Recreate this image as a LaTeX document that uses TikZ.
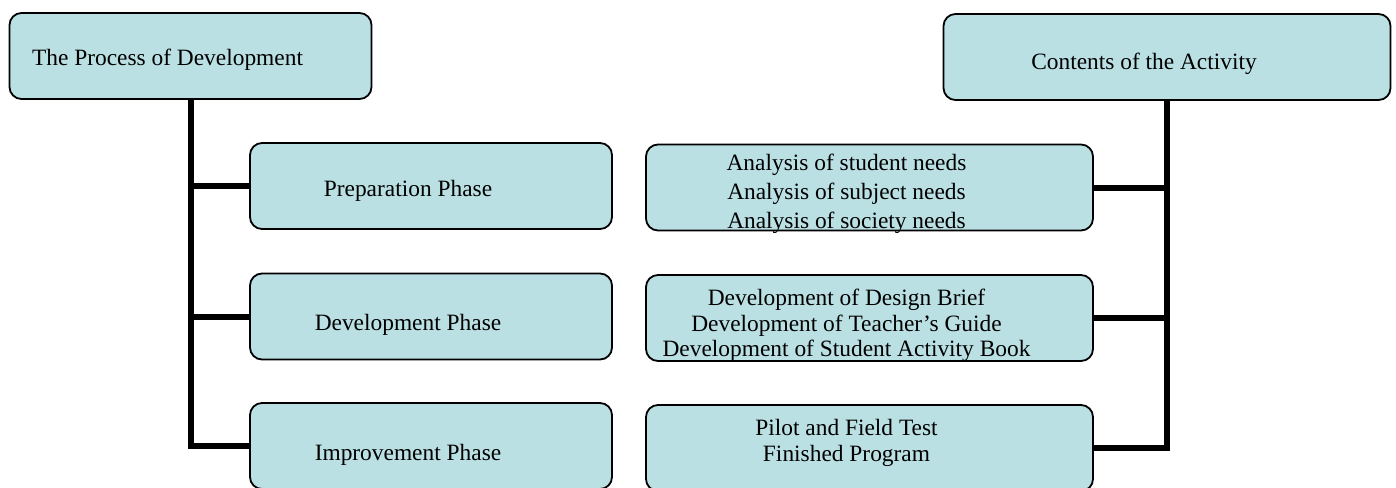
\documentclass[tikz,border=0pt]{standalone}
\usepackage{fontspec}
\setmainfont{Liberation Serif}
\definecolor{boxfill}{RGB}{186,224,228}

\begin{document}
\begin{tikzpicture}[x=0.5pt, y=-0.5pt, font=\fontsize{11.7}{13}\selectfont,
        box/.style={draw=black, line width=0.9pt, fill=boxfill, rounded corners=6pt, inner sep=0pt, minimum height=43pt},
        phase/.style={box, minimum width=181pt},
        activity/.style={box, minimum width=223.5pt},
        boxtext/.style={xshift=-11.5pt, align=center},
        trunk/.style={line width=3pt}]
        \useasboundingbox (0, 0) rectangle (1396, 487);
        \clip (0, 0) rectangle (1396, 487);

        % the two headings
        \node[phase, label={[boxtext, yshift=-2pt]center:The Process of Development}] (proc) at (190.5, 56) {};
        \node[activity, label={[boxtext, yshift=-3.5pt]center:Contents of the Activity}] (cont) at (1167, 57) {};

        % phases
        \node[phase, label={[boxtext, yshift=-2.5pt]center:Preparation Phase}] (prep) at (431, 186) {};
        \node[phase, label={[boxtext, yshift=-4pt]center:Development Phase}] (devel) at (431, 316.5) {};
        \node[phase, label={[boxtext, yshift=-4.5pt]center:Improvement Phase}] (impr) at (431, 446) {};

        % activities
        \node[activity, label={[boxtext, yshift=-3.25pt, font=\fontsize{11.7}{14.5}\selectfont]center:Analysis of student needs\\Analysis of subject needs\\Analysis of society needs}] (needs) at (869.5, 187.5) {};
        \node[activity, label={[boxtext, yshift=-3.75pt, font=\fontsize{11.7}{12.75}\selectfont]center:Development of Design Brief\\Development of Teacher's Guide\\Development of Student Activity Book}] (guides) at (869.5, 318) {};
        \node[activity, label={[boxtext, yshift=2.75pt]center:Pilot and Field Test\\Finished Program}] (pilot) at (869.5, 448) {};

        % left trunk
        \draw[trunk] (proc.south) |- (impr.west);
        \draw[trunk] (prep.west) -- (prep.west -| proc.south);
        \draw[trunk] (devel.west) -- (devel.west -| proc.south);

        % right trunk
        \draw[trunk] (cont.south) |- (pilot.east);
        \draw[trunk] (needs.east) -- (needs.east -| cont.south);
        \draw[trunk] (guides.east) -- (guides.east -| cont.south);
    \end{tikzpicture}
\end{document}
